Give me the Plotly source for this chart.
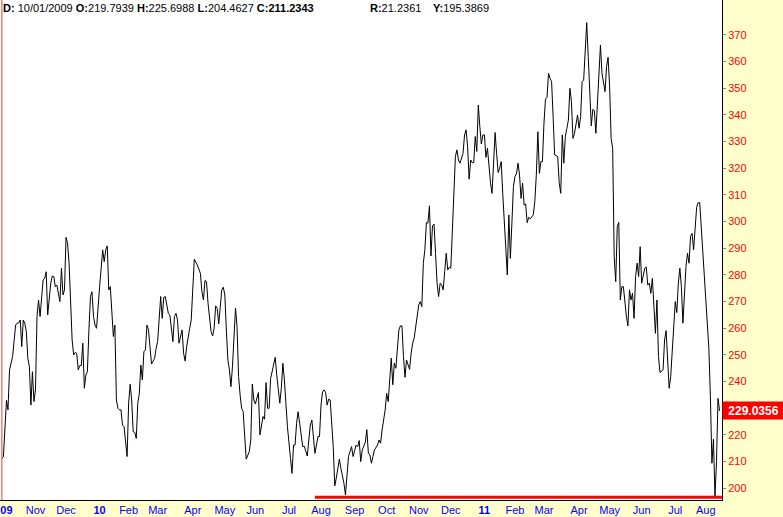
import pandas as pd
import plotly.graph_objects as go

# ---------------- data ----------------
HOLIDAYS = ["2009-11-26", "2009-12-25", "2010-01-01", "2010-01-18", "2010-02-15",
            "2010-04-02", "2010-05-31", "2010-07-05", "2010-09-06", "2010-11-25",
            "2010-12-24", "2011-01-17", "2011-02-21", "2011-04-22", "2011-05-30",
            "2011-07-04"]

# trading-session number (0 = 2009-10-01) and close value
session_a = [0, 1, 3, 4, 5, 6, 7, 9, 10, 11, 12, 13, 14, 15, 16, 17, 18, 19, 20, 21, 22, 23, 24, 25,
             27, 28, 29, 30, 32, 33, 34, 35, 36, 38, 39, 40, 41, 42, 43, 44, 45, 46, 47, 48, 49, 50,
             51, 52, 53, 54, 55, 56, 57, 58, 59, 60, 61, 62, 64, 65, 66, 67, 68, 69, 70, 71, 72, 73,
             74, 75, 76, 77, 78, 79, 80, 82, 83, 84, 85, 86, 87, 88, 89, 90, 91, 92, 93]
close_a = [211.2343, 211.8, 233.0, 229.4, 244.4, 246.9, 249.4, 261.2, 261.9, 262.0, 263.1, 253.1,
           263.1, 261.9, 258.7, 248.7, 245.6, 231.2, 243.7, 232.5, 236.9, 264.4, 270.6, 264.4,
           278.1, 278.7, 281.2, 265.0, 276.9, 279.6, 279.4, 275.6, 276.2, 270.0, 282.5, 272.5,
           274.4, 294.1, 291.9, 284.4, 268.1, 255.6, 250.0, 250.9, 250.6, 244.4, 246.0, 246.0,
           254.4, 237.5, 242.5, 243.7, 259.4, 271.9, 273.7, 264.4, 261.2, 260.0, 275.6, 281.9,
           289.4, 285.0, 289.4, 290.9, 274.4, 275.6, 265.6, 256.9, 261.2, 233.1, 230.0, 229.4,
           229.4, 223.7, 223.1, 211.9, 231.9, 239.0, 233.1, 221.2, 221.0, 218.7, 231.9, 235.6,
           246.2, 240.6, 251.2]

session_b = [94, 95, 96, 98, 100, 101, 102, 104, 105, 106, 107, 109, 110, 112, 113, 114, 115, 116,
             117, 118, 119, 120, 121, 122, 123, 124, 126, 128, 129, 130, 131, 132, 133, 134, 135,
             136, 137, 138, 139, 140, 141, 142, 143, 144, 145, 146, 147, 148, 149, 150, 151, 152,
             153, 154, 155, 156, 157, 158, 159, 160, 162, 163, 164, 165, 166, 168, 169, 171, 172,
             173, 174, 175, 176, 177, 179, 180, 181, 182, 183, 184, 185, 186, 187, 189, 190, 191,
             192, 193, 194, 195, 196, 197, 198, 200, 201, 202, 203, 204, 205, 206, 207, 208, 209,
             210, 211]
close_b = [251.9, 261.2, 259.4, 246.6, 248.7, 252.5, 255.0, 271.9, 263.7, 271.6, 271.9, 265.6,
           265.0, 255.0, 264.4, 265.6, 263.1, 254.4, 257.5, 259.4, 250.6, 247.7, 253.1, 257.5,
           260.0, 263.1, 285.9, 283.7, 281.9, 280.6, 273.7, 270.6, 277.9, 277.5, 269.4, 263.1,
           258.7, 257.1, 260.0, 268.4, 267.5, 261.6, 269.4, 274.4, 275.4, 272.5, 259.4, 248.1,
           244.4, 238.1, 245.6, 258.1, 267.5, 260.6, 241.9, 235.0, 230.0, 228.7, 216.9, 210.9,
           213.7, 218.1, 239.1, 233.1, 231.6, 235.9, 220.0, 226.9, 225.9, 239.6, 230.0, 230.0,
           241.2, 243.7, 249.1, 242.5, 237.5, 231.9, 237.5, 246.9, 240.6, 229.6, 223.1, 211.2,
           205.6, 216.2, 216.2, 224.4, 228.7, 224.4, 218.7, 215.6, 215.8, 212.1, 218.1, 223.7,
           225.6, 218.1, 213.1, 216.2, 219.4, 219.4, 231.2, 236.2, 236.9]

session_c = [212, 213, 214, 215, 217, 218, 219, 220, 221, 222, 224, 225, 226, 227, 229, 230, 232,
             233, 234, 235, 236, 238, 239, 240, 241, 242, 243, 244, 246, 247, 248, 249, 251, 252,
             253, 254, 255, 256, 257, 258, 259, 260, 261, 262, 263, 264, 265, 267, 268, 269, 270,
             271, 272, 273, 274, 275, 276, 277, 278, 279, 280, 281, 282, 283, 284, 285, 286, 287,
             288, 289, 290, 291, 292, 293, 294, 295, 296, 297, 298, 299, 300]
close_c = [235.9, 231.2, 233.4, 233.1, 215.6, 200.9, 203.8, 207.5, 210.9, 207.5, 201.9, 197.5,
           203.8, 211.9, 215.6, 211.9, 216.2, 215.6, 217.9, 210.0, 214.4, 217.2, 222.0, 213.1,
           212.5, 209.4, 211.9, 214.4, 216.2, 218.1, 216.9, 221.9, 229.4, 235.6, 232.5, 241.9,
           248.8, 238.8, 246.9, 245.0, 251.9, 259.4, 260.9, 260.9, 249.4, 241.6, 248.1, 244.6,
           250.6, 254.4, 256.3, 261.3, 265.6, 268.8, 270.0, 268.1, 284.4, 289.4, 299.6, 299.4,
           305.9, 287.1, 298.4, 299.1, 288.1, 276.9, 271.9, 276.9, 276.3, 274.4, 281.3, 288.1,
           281.9, 282.9, 282.5, 298.1, 314.4, 324.4, 326.9, 323.1, 321.9]

session_d = [302, 303, 304, 305, 306, 307, 308, 309, 310, 311, 312, 313, 314, 315, 316, 317, 318,
             320, 321, 322, 323, 324, 325, 326, 327, 328, 329, 330, 331, 332, 333, 334, 335, 336,
             337, 338, 339, 340, 341, 342, 343, 344, 345, 346, 347, 348, 349, 350, 351, 352, 353,
             354, 355, 356, 357, 358, 359, 360, 361, 362, 364, 365, 366, 367, 368, 369, 370, 371,
             372, 373, 374, 375, 377, 378, 379, 380, 381, 382, 383, 384, 385, 386, 387, 388, 389,
             390, 391, 392, 393, 395, 396, 397, 398, 399, 400, 401, 402, 403, 404, 405, 406, 407,
             409, 410, 411, 412, 413, 414, 415, 416, 417, 418, 419, 421, 422, 423, 424, 425, 426,
             427, 428, 429, 430, 431, 432, 433, 434, 435, 436, 437, 438, 439, 440, 441, 442, 443,
             444, 445, 446, 447, 448, 449, 450, 451, 452, 453, 454, 455, 456, 457, 458, 459, 460,
             461, 462, 463, 464, 465, 466, 467, 468, 469, 470]
close_d = [325.6, 332.5, 334.4, 328.1, 315.9, 323.1, 322.1, 322.1, 331.9, 326.3, 343.7, 335.6,
           329.1, 332.5, 332.5, 324.1, 327.5, 314.4, 310.6, 321.9, 333.4, 325.6, 318.4, 320.0,
           322.5, 310.6, 300.6, 290.6, 280.0, 302.5, 286.2, 299.4, 313.1, 316.9, 317.9, 321.9,
           317.5, 308.7, 314.4, 306.2, 306.6, 299.6, 301.6, 301.0, 301.6, 302.5, 307.5, 317.5,
           333.7, 318.1, 322.5, 322.5, 336.9, 345.9, 346.6, 355.6, 353.7, 352.5, 339.4, 325.0,
           324.4, 314.4, 310.6, 332.5, 321.9, 331.9, 335.0, 338.1, 350.0, 345.0, 331.2, 333.1,
           340.0, 335.0, 339.4, 352.5, 353.1, 363.7, 374.6, 361.9, 348.1, 335.9, 342.1, 341.6,
           333.1, 346.2, 358.1, 366.2, 355.6, 348.7, 358.1, 361.6, 350.6, 331.2, 327.5, 286.9,
           277.5, 298.1, 299.7, 270.6, 275.6, 275.6, 264.4, 260.9, 274.4, 270.6, 273.1, 263.7,
           279.4, 284.4, 279.4, 290.6, 276.9, 282.5, 283.0, 276.2, 276.9, 273.1, 278.7, 268.1,
           258.1, 270.6, 249.4, 243.4, 243.8, 244.4, 255.6, 259.1, 248.1, 237.5, 241.9, 253.1,
           263.1, 270.0, 265.9, 276.9, 282.5, 275.6, 261.9, 275.6, 283.1, 288.1, 284.4, 294.4,
           295.6, 289.4, 298.1, 305.4, 307.1, 307.1, 298.1, 288.1, 279.4, 268.1, 260.6, 252.5,
           234.4, 209.4, 218.4, 196.9, 210.0, 233.7, 229.0356]

MONTH_LABELS = ["09", "Nov", "Dec", "10", "Feb", "Mar", "Apr", "May", "Jun", "Jul", "Aug", "Sep",
                "Oct", "Nov", "Dec", "11", "Feb", "Mar", "Apr", "May", "Jun", "Jul", "Aug"]
Y_TICKS = list(range(200, 371, 10))

HEADER = "<b>D:</b> 10/01/2009 <b>O:</b>219.7939 <b>H:</b>225.6988 <b>L:</b>204.4627 <b>C:211.2343</b>"
HEADER_R = "<b>R:</b>21.2361"
HEADER_Y = "<b>Y:</b>195.3869"
LAST_LABEL = "229.0356"
SUPPORT_LEVEL = 196.6
SUPPORT_START_SESSION = 205

# ---------------- build ----------------
sessions = session_a + session_b + session_c + session_d
closes = close_a + close_b + close_c + close_d
assert len(sessions) == len(closes)
assert all(b > a for a, b in zip(sessions, sessions[1:]))

cal = pd.bdate_range("2009-10-01", "2011-09-30", freq="C", holidays=HOLIDAYS)
dates = cal[sessions]

months = cal[cal < "2011-09-01"]
first_days = months.to_series().groupby(months.to_period("M")).first()
tickvals = list(first_days.values)
ticktext = []
for i, lab in enumerate(MONTH_LABELS):
    if lab.isdigit():
        t = "<b>" + lab + "</b>"
        if i == 0:
            t = "\u00a0\u00a0\u00a0" + t
    else:
        t = lab
    ticktext.append(t)

FONT = "Liberation Sans, Arial, sans-serif"
x_range = ["2009-09-29 18:14", "2011-08-15 14:24"]

fig = go.Figure()
fig.add_trace(go.Scatter(x=dates, y=closes, mode="lines",
                         line=dict(color="#000000", width=1), hoverinfo="skip"))

fig.add_shape(type="line", xref="x", yref="y", x0=cal[SUPPORT_START_SESSION], x1=x_range[1],
              y0=SUPPORT_LEVEL, y1=SUPPORT_LEVEL, line=dict(color="#FF0000", width=3))
fig.add_shape(type="line", xref="x", yref="paper", x0=cal[0], x1=cal[0], y0=0, y1=1,
              line=dict(color="#E04040", width=1))

fig.add_annotation(text=HEADER, xref="paper", yref="paper", x=0, y=1, xanchor="left",
                   yanchor="top", xshift=1, showarrow=False,
                   font=dict(family=FONT, size=11, color="#000000"))
fig.add_annotation(text=HEADER_R, xref="paper", yref="paper", x=0, y=1, xanchor="left",
                   yanchor="top", xshift=368, showarrow=False,
                   font=dict(family=FONT, size=11, color="#000000"))
fig.add_annotation(text=HEADER_Y, xref="paper", yref="paper", x=0, y=1, xanchor="left",
                   yanchor="top", xshift=431, showarrow=False,
                   font=dict(family=FONT, size=11, color="#000000"))
fig.add_annotation(text="<b>" + LAST_LABEL + "</b>", xref="paper", yref="y", x=1,
                   y=closes[-1], xanchor="left", yanchor="middle", showarrow=False,
                   bgcolor="#FF0000", width=59, height=15, borderpad=1, align="center",
                   font=dict(family=FONT, size=12, color="#FFFFFF"))

fig.update_layout(
    width=783, height=517,
    margin=dict(l=0, r=61, t=0, b=17, autoexpand=False),
    paper_bgcolor="#FFFFCC", plot_bgcolor="#FFFFFF",
    showlegend=False,
    font=dict(family=FONT, size=11),
    xaxis=dict(type="date", range=x_range, automargin=False,
               rangebreaks=[dict(bounds=["sat", "mon"]), dict(values=HOLIDAYS)],
               tickmode="array", tickvals=tickvals, ticktext=ticktext, ticks="",
               ticklabeloverflow="allow",
               tickfont=dict(family=FONT, size=11, color="#0000FF"),
               showgrid=False, zeroline=False, showline=True, linecolor="#000000",
               linewidth=1, fixedrange=True),
    yaxis=dict(side="right", range=[195.6, 383.1], automargin=False,
               tickmode="array", tickvals=Y_TICKS,
               ticks="outside", ticklen=3, tickcolor="#888888",
               tickfont=dict(family=FONT, size=11, color="#FF0000"),
               showgrid=False, zeroline=False, showline=True, linecolor="#000000",
               linewidth=1, fixedrange=True),
)

fig.write_html("out.html", config={"displayModeBar": False},
               post_script="document.body.style.margin='0';document.body.style.overflow='hidden';")
